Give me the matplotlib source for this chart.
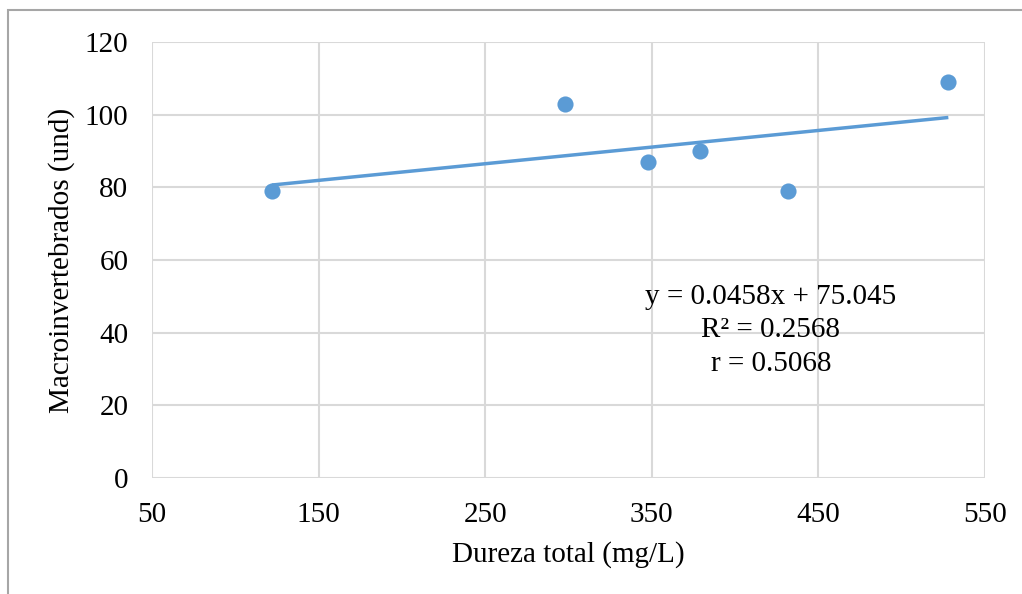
import numpy as np
import matplotlib
matplotlib.use("Agg")
import matplotlib.pyplot as plt
from matplotlib.patches import Rectangle

# Datos
dureza = [122, 298, 348, 379, 432, 528]
macro = [79, 103, 87, 90, 79, 109]
pendiente = 0.0458
interc = 75.045
ecuacion = "y = 0.0458x + 75.045\nR² = 0.2568\nr = 0.5068"

plt.rcParams['font.family'] = ['Liberation Serif', 'DejaVu Serif']
azul = '#5B9BD5'
gris = '#D9D9D9'
fs = 21

fig = plt.figure(figsize=(10.22, 5.94), dpi=100)
ax = fig.add_axes([152/1022, 1-478/594, 833/1022, 436/594])

# borde exterior del gráfico
fig.patches.append(Rectangle((8/1022, -0.05), 1.1, 1-10/594+0.05, transform=fig.transFigure,
                             fill=False, edgecolor='#A6A6A6', linewidth=1.5))

# línea de tendencia
xs = np.array([min(dureza), max(dureza)])
ax.plot(xs, interc + pendiente*xs, color=azul, linewidth=2.5, zorder=3, solid_capstyle='butt')
ax.scatter(dureza, macro, s=135, color=azul, zorder=4, linewidths=0)

ax.set_xlim(50, 550)
ax.set_ylim(0, 120)
ax.set_xticks(range(50, 551, 100))
ax.set_yticks(range(0, 121, 20))
ax.grid(True, color=gris, linewidth=1.5)
ax.set_axisbelow(True)
for s in ax.spines.values():
    s.set_visible(False)
ax.tick_params(length=0, labelsize=fs, pad=17)
ax.tick_params(axis='x', pad=17)

ax.set_xlabel("Dureza total (mg/L)", fontsize=fs, labelpad=10)
ax.set_ylabel("Macroinvertebrados (und)", fontsize=fs, labelpad=7)

ax.text(421.5, 40.7, ecuacion, ha='center', va='center', fontsize=fs, linespacing=1.37)

fig.savefig("out.png", dpi=100)
